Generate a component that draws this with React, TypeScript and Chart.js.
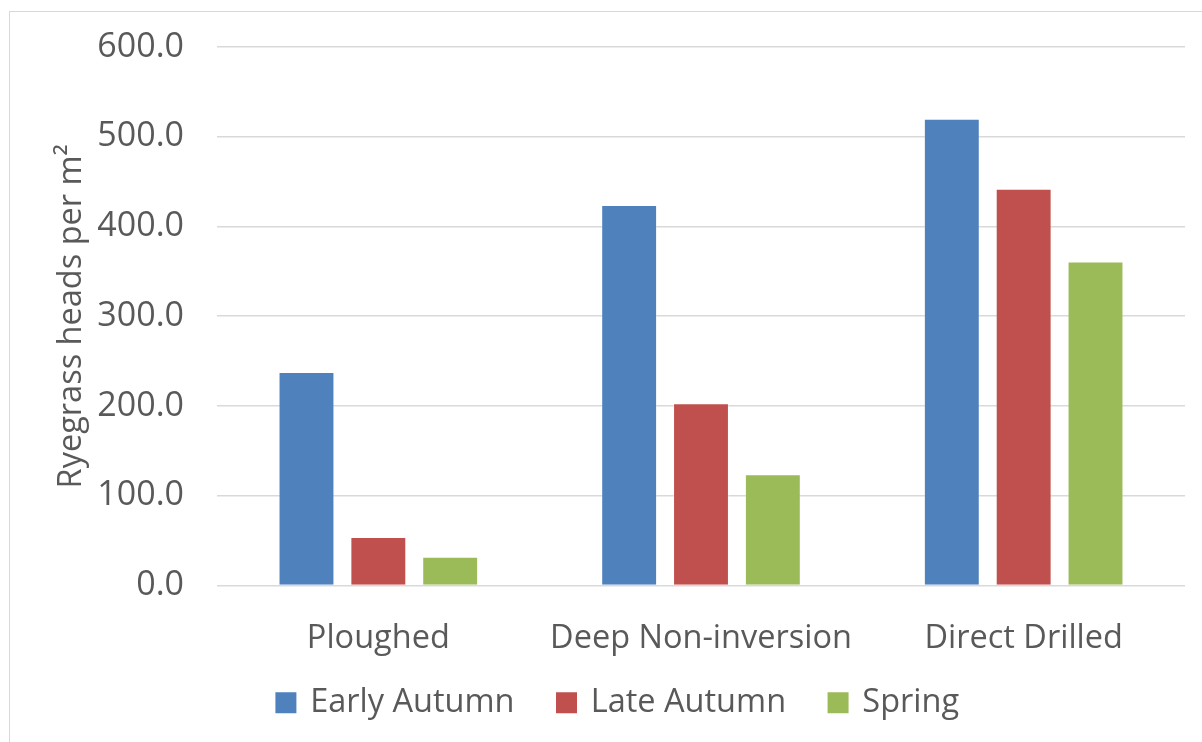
import React, { useEffect, useRef } from "react";
import { Chart, registerables } from "chart.js";

Chart.register(...registerables);

// Tillage treatments along the x axis
const categories = ["Ploughed", "Deep Non-inversion", "Direct Drilled"];

// Ryegrass heads per m² by sowing timing
const earlyAutumn = [238, 424, 520];
const lateAutumn = [54, 203, 442];
const spring = [32, 124, 361];

const seriesNames = ["Early Autumn", "Late Autumn", "Spring"];
const seriesColors = ["#4F81BD", "#C0504D", "#9BBB59"];

const yMin = 0;
const yMax = 600;
const yStep = 100;

const TEXT = "#595959";
const GRID = "#d9d9d9";
const FONT = "'Open Sans', sans-serif";

export default function App() {
  const canvasRef = useRef<HTMLCanvasElement | null>(null);

  useEffect(() => {
    if (!canvasRef.current) return;
    const values = [earlyAutumn, lateAutumn, spring];
    const defaultLabels = Chart.defaults.plugins.legend.labels.generateLabels;
    const chart = new Chart(canvasRef.current, {
      type: "bar",
      data: {
        labels: categories,
        datasets: values.map((v, i) => ({
          label: seriesNames[i],
          data: v,
          backgroundColor: seriesColors[i],
          borderColor: "rgba(255,255,255,0.25)",
          borderWidth: 1,
          barPercentage: 0.778,
          categoryPercentage: 0.668,
        })),
      },
      options: {
        responsive: false,
        animation: false,
        devicePixelRatio: 1,
        layout: { padding: { left: 52, right: 17, top: 47, bottom: 13 } },
        font: { family: FONT },
        plugins: {
          tooltip: { enabled: false },
          legend: {
            position: "bottom",
            labels: {
              color: TEXT,
              font: { family: FONT, size: 32.5 },
              boxWidth: 16,
              boxHeight: 16,
              padding: 44,
              // solid squares: a thick stroke in the fill colour widens the key box
              generateLabels: (c: any) =>
                defaultLabels(c).map((item: any) => ({
                  ...item,
                  strokeStyle: item.fillStyle,
                  lineWidth: 5,
                })),
            },
          },
        },
        scales: {
          x: {
            grid: { display: false },
            border: { display: false },
            ticks: {
              color: TEXT,
              font: { family: FONT, size: 32.5 },
              padding: 26,
              maxRotation: 0,
            },
            afterFit: (scale: any) => {
              scale.height = 57;
              // let the category labels' descenders run past the axis box
              scale._computeLabelArea = () => undefined;
            },
          },
          y: {
            min: yMin,
            max: yMax,
            border: { display: false },
            grid: { color: GRID, lineWidth: 1.6, drawTicks: false },
            ticks: {
              stepSize: yStep,
              color: TEXT,
              font: { family: FONT, size: 34 },
              padding: 33,
              callback: (v: any) => Number(v).toFixed(1),
            },
            title: {
              display: true,
              text: "Ryegrass heads per m²",
              color: TEXT,
              font: { family: FONT, size: 32.5 },
              padding: 0,
            },
            afterFit: (scale: any) => {
              scale.width = 165;
              scale.paddingTop = 0;
              scale.paddingBottom = 0;
            },
          },
        },
      },
    });
    return () => chart.destroy();
  }, []);

  return (
    <div
      style={{
        position: "fixed",
        left: 0,
        top: 0,
        width: 1202,
        height: 742,
        overflow: "hidden",
        background: "#ffffff",
      }}
    >
      <div
        style={{
          position: "absolute",
          left: 9,
          top: 11,
          width: 1260,
          height: 800,
          border: "1px solid #d9d9d9",
        }}
      />
      <canvas
        ref={canvasRef}
        width={1202}
        height={742}
        style={{ position: "absolute", left: 0, top: 0, width: 1202, height: 742 }}
      />
    </div>
  );
}
